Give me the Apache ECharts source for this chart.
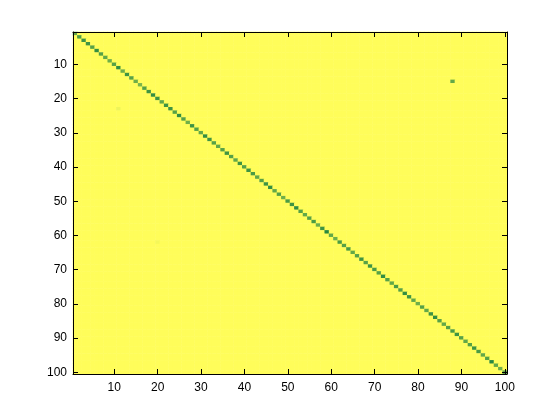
<!DOCTYPE html>
<html>
<head>
<meta charset="utf-8">
<script src="https://cdn.jsdelivr.net/npm/echarts@6/dist/echarts.min.js"></script>
<style>html,body{margin:0;padding:0;background:#fff;}#c{width:560px;height:420px;}</style>
</head>
<body>
<div id="c"></div>
<script>
// ---- data ----
const N = 100;
const categories = Array.from({length: N}, (_, i) => String(i + 1));
const tickLabels = ['10','20','30','40','50','60','70','80','90','100'];
const offDiagonalValue = 1.0;
const diagonalValues = [
  0.35,0.25,0.2,0.2,0.3,0.15,0.3,0.35,0.4,0.3,0.15,0.4,0.2,0.3,0.4,0.45,0.3,0.2,0.15,0.2,
  0.35,0.2,0.2,0.3,0.15,0.3,0.4,0.2,0.3,0.35,0.15,0.2,0.3,0.35,0.3,0.2,0.3,0.35,0.2,0.3,
  0.2,0.25,0.35,0.3,0.2,0.15,0.35,0.3,0.4,0.25,0.2,0.15,0.3,0.35,0.3,0.25,0.4,0.2,0.1,0.35,
  0.4,0.25,0.3,0.25,0.35,0.3,0.2,0.3,0.2,0.25,0.3,0.15,0.3,0.35,0.25,0.3,0.15,0.2,0.35,0.4,
  0.3,0.35,0.2,0.15,0.3,0.35,0.3,0.25,0.2,0.3,0.35,0.3,0.2,0.25,0.35,0.3,0.1,0.35,0.4,0.35
];
// [column, row, value]
const extraCells = [[88, 15, 0.35], [11, 23, 0.93], [20, 62, 0.96]];

// ---- build matrix ----
const data = [];
for (let r = 1; r <= N; r++) {
  for (let c = 1; c <= N; c++) {
    let v = (r === c) ? diagonalValues[r - 1] : offDiagonalValue;
    data.push([c - 1, r - 1, v]);
  }
}
const idx = {};
data.forEach((d, i) => { idx[d[0] + '_' + d[1]] = i; });
extraCells.forEach(([c, r, v]) => { data[idx[(c - 1) + '_' + (r - 1)]][2] = v; });

const showTick = (i) => tickLabels.indexOf(categories[i]) >= 0;
const font = {fontFamily: 'Liberation Sans, Arial, sans-serif', fontSize: 12, color: '#000'};
const line = {show: true, lineStyle: {color: '#000', width: 1}};

function mkAxis(extra) {
  return Object.assign({
    type: 'category',
    data: categories,
    z: 10,
    axisLine: line,
    axisTick: {show: true, inside: true, length: 5, alignWithLabel: true, interval: (i) => showTick(i), lineStyle: {color: '#000'}},
    axisLabel: Object.assign({show: true, interval: (i) => showTick(i)}, font),
    splitLine: {show: false}
  }, extra);
}

const chart = echarts.init(document.getElementById('c'), null, {renderer: 'canvas'});
chart.setOption({
  animation: false,
  backgroundColor: '#fff',
  grid: {left: 73, right: 53, top: 32, bottom: 46, containLabel: false},
  xAxis: [
    mkAxis({position: 'bottom', axisLabel: Object.assign({show: true, margin: 8, interval: (i) => showTick(i)}, font)}),
    mkAxis({position: 'top', axisLabel: {show: false}})
  ],
  yAxis: [
    mkAxis({position: 'left', inverse: true, axisLabel: Object.assign({show: true, margin: 6, interval: (i) => showTick(i)}, font)}),
    mkAxis({position: 'right', inverse: true, axisLabel: {show: false}})
  ],
  visualMap: {
    show: false,
    min: 0, max: 1,
    dimension: 2,
    inRange: {color: ['#0f7a3c', '#fffd5a']}
  },
  series: [{
    type: 'heatmap',
    data: data,
    z: 1,
    progressive: 0,
    itemStyle: {borderWidth: 0},
    emphasis: {disabled: true}
  }]
});
</script>
</body>
</html>
